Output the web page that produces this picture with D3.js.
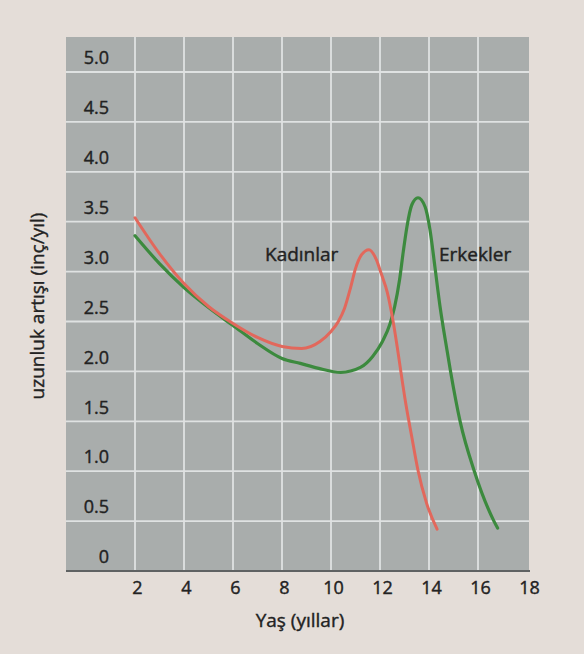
<!DOCTYPE html>
<html>
<head>
<meta charset="utf-8">
<script src="https://cdn.jsdelivr.net/npm/d3@7"></script>
<style>
  html, body { margin: 0; padding: 0; background: #e4ddd8; }
  svg { display: block; }
  text { font-family: "Open Sans", "Noto Sans", sans-serif; fill: #222; font-weight: 400; stroke: #222; stroke-width: 0.4px; }
</style>
</head>
<body>
<svg id="chart" width="584" height="654"></svg>
<script>
// ---- data ----
const xTicks = [2, 4, 6, 8, 10, 12, 14, 16, 18];
const yTicks = [0, 0.5, 1.0, 1.5, 2.0, 2.5, 3.0, 3.5, 4.0, 4.5, 5.0];

const femaleAge  = [2, 3, 4, 5, 6, 7, 8, 8.8, 9.55, 10.0, 10.3, 10.55, 10.8, 11.0, 11.25, 11.55, 11.85, 12.05, 12.3, 12.5, 12.7, 12.85, 13.05, 13.3, 13.55, 13.9, 14.33];
const femaleRate = [3.54, 3.18, 2.88, 2.65, 2.48, 2.34, 2.25, 2.23, 2.30, 2.40, 2.50, 2.63, 2.84, 3.03, 3.17, 3.22, 3.12, 2.98, 2.79, 2.55, 2.25, 2.0, 1.68, 1.34, 1.01, 0.68, 0.42];

const maleAge  = [2, 3, 4, 5, 6, 7, 8, 8.75, 9.5, 10.4, 11.2, 11.7, 12.1, 12.4, 12.6, 12.8, 12.95, 13.1, 13.3, 13.55, 13.84, 14.04, 14.24, 14.45, 14.73, 14.88, 15.27, 15.85, 16.65, 16.8];
const maleRate = [3.36, 3.08, 2.84, 2.64, 2.46, 2.28, 2.13, 2.08, 2.03, 1.99, 2.04, 2.15, 2.30, 2.47, 2.65, 2.92, 3.20, 3.45, 3.67, 3.74, 3.65, 3.42, 3.05, 2.65, 2.22, 2.0, 1.5, 1.0, 0.5, 0.43];

const seriesNames = ["Kadınlar", "Erkekler"];
const xTitle = "Yaş (yıllar)";
const yTitle = "uzunluk artışı (inç/yıl)";

// ---- layout ----
const svg = d3.select("#chart");
const plotLeft = 66, plotRight = 529, plotTop = 37, plotBottom = 571;

const x = d3.scaleLinear().domain([2, 18]).range([135, 527]);
const y = d3.scaleLinear().domain([0, 5]).range([571, 72]);

// background panel
svg.append("rect")
  .attr("x", plotLeft).attr("y", plotTop)
  .attr("width", plotRight - plotLeft).attr("height", plotBottom - plotTop)
  .attr("fill", "#a9adac");

// grid
svg.append("g").selectAll("line")
  .data(yTicks.filter(d => d > 0))
  .join("line")
  .attr("x1", plotLeft).attr("x2", plotRight)
  .attr("y1", d => y(d)).attr("y2", d => y(d))
  .attr("stroke", "#dfe2e2").attr("stroke-width", 1.8);

svg.append("g").selectAll("line")
  .data(xTicks.filter(d => d < 18))
  .join("line")
  .attr("x1", d => x(d)).attr("x2", d => x(d))
  .attr("y1", plotTop).attr("y2", plotBottom)
  .attr("stroke", "#dfe2e2").attr("stroke-width", 1.8);

// axis line
svg.append("line")
  .attr("x1", plotLeft).attr("x2", plotRight + 1)
  .attr("y1", plotBottom).attr("y2", plotBottom)
  .attr("stroke", "#5f6263").attr("stroke-width", 2.2);

// y axis labels
const yAxis = svg.append("g")
  .attr("transform", `translate(${x(2)},0)`)
  .call(d3.axisLeft(y).tickValues(yTicks).tickSize(0).tickPadding(26)
    .tickFormat(d => d === 0 ? "0" : d3.format(".1f")(d)));
yAxis.select(".domain").remove();
yAxis.selectAll("text")
  .attr("y", -14)
  .style("font-size", "18px")
  .style("font-family", "'Open Sans', sans-serif")
  .attr("fill", "#222");

// x axis labels
const xAxis = svg.append("g")
  .attr("transform", `translate(2,${plotBottom})`)
  .call(d3.axisBottom(x).tickValues(xTicks).tickSize(0).tickPadding(10)
    .tickFormat(d3.format("d")));
xAxis.select(".domain").remove();
xAxis.selectAll("text")
  .style("font-size", "18px")
  .style("font-family", "'Open Sans', sans-serif")
  .attr("fill", "#222");

// curves
const line = d3.line()
  .x(d => x(d[0])).y(d => y(d[1]))
  .curve(d3.curveMonotoneX);

const female = femaleAge.map((a, i) => [a, femaleRate[i]]);
const male = maleAge.map((a, i) => [a, maleRate[i]]);

svg.append("path").datum(male)
  .attr("d", line).attr("fill", "none")
  .attr("stroke", "#3c8a3e").attr("stroke-width", 3.2)
  .attr("stroke-linecap", "round");

svg.append("path").datum(female)
  .attr("d", line).attr("fill", "none")
  .attr("stroke", "#e2685c").attr("stroke-width", 3)
  .attr("stroke-linecap", "round");

// series labels
svg.append("text")
  .attr("x", 265).attr("y", 261)
  .style("font-size", "19px")
  .text(seriesNames[0]);
svg.append("text")
  .attr("x", 439).attr("y", 261)
  .style("font-size", "19px")
  .text(seriesNames[1]);

// axis titles
svg.append("text")
  .attr("x", 300).attr("y", 627)
  .attr("text-anchor", "middle")
  .style("font-size", "19px")
  .text(xTitle);

svg.append("text")
  .attr("transform", "translate(44,306) rotate(-90)")
  .attr("text-anchor", "middle")
  .style("font-size", "19px")
  .text(yTitle);
</script>
</body>
</html>
